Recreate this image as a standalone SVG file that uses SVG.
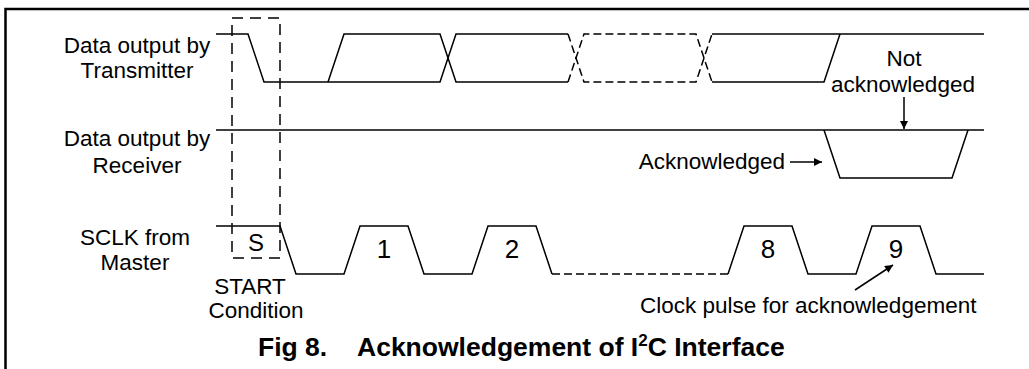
<svg xmlns="http://www.w3.org/2000/svg" width="1029" height="369" viewBox="0 0 1029 369">
<style>
.w{fill:none;stroke:#000;stroke-width:1.5}
.d{fill:none;stroke:#000;stroke-width:1.5;stroke-dasharray:8 4}
.b{fill:none;stroke:#000;stroke-width:1.5;stroke-dasharray:11 7}
.t{font-family:"Liberation Sans",Arial,sans-serif;font-size:22.5px;fill:#000}
.n{font-family:"Liberation Sans",Arial,sans-serif;font-size:26px;fill:#000;text-anchor:middle}
.c{text-anchor:middle}
.e{text-anchor:end}
.ti{font-family:"Liberation Sans",Arial,sans-serif;font-size:26.5px;font-weight:bold;fill:#000}
</style>
<defs>
<marker id="ah" viewBox="0 0 10 10" refX="10" refY="5" markerWidth="10" markerHeight="8" markerUnits="userSpaceOnUse" orient="auto">
<path d="M0,0 L10,5 L0,10 z" fill="#000"/>
</marker>
</defs>
<rect width="1029" height="369" fill="#fff"/>
<g id="frame">
<path d="M5.5,369 V9 H1029" fill="none" stroke="#000" stroke-width="2.5"/>
</g>
<g id="labels">
<text class="t c" x="137" y="53">Data output by</text>
<text class="t c" x="137" y="78">Transmitter</text>
<text class="t c" x="137" y="146">Data output by</text>
<text class="t c" x="137" y="173">Receiver</text>
<text class="t c" x="135" y="245">SCLK from</text>
<text class="t c" x="135" y="270">Master</text>
</g>
<g id="start-condition">
<rect class="b" x="232" y="18" width="48" height="240"/>
<text class="n" x="256" y="251" style="font-size:24px">S</text>
<text class="t c" x="250" y="294">START</text>
<text class="t c" x="256" y="318">Condition</text>
</g>
<g id="transmitter">
<path class="w" d="M216,34 H248 L264,82 H440 L456,34 H568"/>
<path class="w" d="M328,82 L344,34 H440 L456,82 H568"/>
<path class="d" d="M568,34 L584,82 H696 L712,34"/>
<path class="d" d="M568,82 L584,34 H696 L712,82"/>
<path class="w" d="M712,34 H984"/>
<path class="w" d="M712,82 H824 L840,34"/>
</g>
<g id="receiver">
<path class="w" d="M216,130 H984"/>
<path class="w" d="M824,130 L840,178 H952 L968,130"/>
</g>
<g id="sclk">
<path class="w" d="M216,226 H280 L296,274 H344 L360,226 H408 L424,274 H472 L488,226 H536 L552,274"/>
<path class="d" d="M552,274 H728"/>
<path class="w" d="M728,274 L744,226 H792 L808,274 H856 L872,226 H920 L936,274 H984"/>
<text class="n" x="384" y="258">1</text>
<text class="n" x="512" y="258">2</text>
<text class="n" x="768" y="258">8</text>
<text class="n" x="896" y="258">9</text>
</g>
<g id="annotations">
<text class="t c" x="904" y="66">Not</text>
<text class="t c" x="903" y="92">acknowledged</text>
<text class="t e" x="785" y="169">Acknowledged</text>
<text class="t" x="640" y="313">Clock pulse for acknowledgement</text>
</g>
<g id="connectors">
<path class="w" d="M904,97 V129" marker-end="url(#ah)"/>
<path class="w" d="M790,162 H822" marker-end="url(#ah)"/>
<path class="w" d="M855,290 L893,265" marker-end="url(#ah)"/>
</g>
<g id="title">
<text class="ti" x="258" y="356">Fig 8.<tspan x="357">Acknowledgement of I</tspan><tspan dy="-10" style="font-size:17px">2</tspan><tspan dy="10">C Interface</tspan></text>
</g>
</svg>
